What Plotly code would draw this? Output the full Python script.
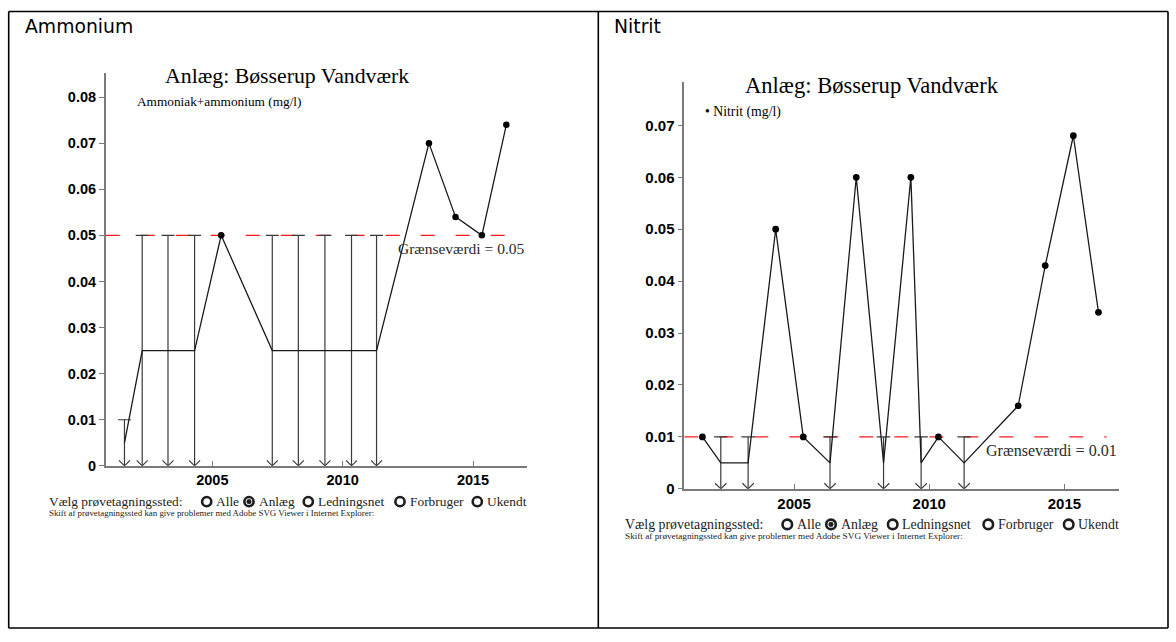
import plotly.graph_objects as go

W, H = 1176, 642

# ---- Ammonium (Ammoniak+ammonium, mg/l) ----
amm_dates = [2001.63, 2002.31, 2003.30, 2004.32, 2005.34, 2007.30, 2008.30,
             2009.32, 2010.34, 2011.30, 2013.31, 2014.33, 2015.34, 2016.28]
amm_values = [0.01, 0.05, 0.05, 0.05, 0.05, 0.05, 0.05,
              0.05, 0.05, 0.05, 0.070, 0.054, 0.050, 0.074]
amm_below = [True, True, True, True, False, True, True,
             True, True, True, False, False, False, False]
amm_limit = 0.05

# ---- Nitrit (mg/l) ----
nit_dates = [2001.61, 2002.29, 2003.30, 2004.32, 2005.34, 2006.33, 2007.30, 2008.31,
             2009.32, 2009.70, 2010.34, 2011.29, 2013.29, 2014.29, 2015.33, 2016.26]
nit_values = [0.01, 0.01, 0.01, 0.05, 0.01, 0.01, 0.06, 0.01,
              0.06, 0.01, 0.01, 0.01, 0.016, 0.043, 0.068, 0.034]
nit_below = [False, True, True, False, False, True, False, True,
             False, True, False, True, False, False, False, False]
nit_limit = 0.01

x_ticks = [2005, 2010, 2015]
plant_title = "Anlæg: Bøsserup Vandværk"
site_prompt = "Vælg prøvetagningssted:"
site_options = ["Alle", "Anlæg", "Ledningsnet", "Forbruger", "Ukendt"]
site_selected = "Anlæg"
site_note = "Skift af prøvetagningssted kan give problemer med Adobe SVG Viewer i Internet Explorer:"

SERIF = "Liberation Serif, Times New Roman, serif"
SANS = "Liberation Sans, Arial, sans-serif"

# Panel geometry (pixels on the page) and scale
panels = [
    dict(header="Ammonium", header_x=23, series="Ammoniak+ammonium (mg/l)", bullet=False,
         dates=amm_dates, values=amm_values, below=amm_below, limit=amm_limit,
         px_x=(105.7, 526.7), px_y=(74.0, 471.7), xrange=(2000.91, 2017.06), yrange=(0, 0.0852),
         dtick_y=0.01, scale=1.0,
         title_xy=(287, 77), legend_xy=(135, 103),
         prompt_xy=(47, 508), note_y=519,
         radio_x=[206.7, 249.0, 308.3, 400.0, 477.3]),
    dict(header="Nitrit", header_x=612, series="Nitrit (mg/l)", bullet=True,
         dates=nit_dates, values=nit_values, below=nit_below, limit=nit_limit,
         px_x=(684.3, 1119.3), px_y=(83.3, 495.0), xrange=(2000.94, 2017.03), yrange=(0, 0.0783),
         dtick_y=0.01, scale=1.036,
         title_xy=(872, 87), legend_xy=(703, 113),
         prompt_xy=(622.7, 531), note_y=542.5,
         radio_x=[787.3, 831.0, 892.7, 988.3, 1068.7]),
]

fig = go.Figure()
annotations = []
shapes = []

# Table frame
frame = dict(type="line", xref="paper", yref="paper", line=dict(color="black", width=1.6))
left, right, mid, top, bottom = 8.7, 1168.0, 598.3, 11.7, 636.0
for (xa, ya, xb, yb) in [(left, top, right, top), (left, bottom, right, bottom),
                         (left, top, left, bottom), (right, top, right, bottom),
                         (mid, top, mid, bottom)]:
    shapes.append(dict(frame, x0=xa / W, x1=xb / W, y0=1 - ya / H, y1=1 - yb / H))

for i, p in enumerate(panels, start=1):
    xa = "x" if i == 1 else f"x{i}"
    ya = "y" if i == 1 else f"y{i}"
    xkey = "xaxis" if i == 1 else f"xaxis{i}"
    ykey = "yaxis" if i == 1 else f"yaxis{i}"
    s = p["scale"]

    # data units per screen pixel
    xpp = (p["xrange"][1] - p["xrange"][0]) / (p["px_x"][1] - p["px_x"][0])
    ypp = (p["yrange"][1] - p["yrange"][0]) / (p["px_y"][1] - p["px_y"][0])

    # below-detection samples are plotted at half the detection limit
    plotted = [v / 2 if b else v for v, b in zip(p["values"], p["below"])]

    # Threshold line
    fig.add_trace(go.Scatter(
        x=[p["xrange"][0], max(p["dates"]) + 0.3], y=[p["limit"], p["limit"]],
        mode="lines", line=dict(color="#ff1a1a", width=1.3, dash="14px,21px"),
        xaxis=xa, yaxis=ya, hoverinfo="skip"))

    # "less than" glyphs: cap at the detection limit, stem and arrow to zero
    gx, gy = [], []
    cap, aw, ah = 6.5 * s * xpp, 5.5 * s * xpp, 5.5 * s * ypp
    for d, v, b in zip(p["dates"], p["values"], p["below"]):
        if not b:
            continue
        gx += [d - cap, d + cap, None, d, d, None, d - aw, d, d + aw, None]
        gy += [v, v, None, v, 0, None, ah, 0, ah, None]
    fig.add_trace(go.Scatter(x=gx, y=gy, mode="lines",
                             line=dict(color="#3a3a3a", width=1.2),
                             xaxis=xa, yaxis=ya, hoverinfo="skip"))

    # Connecting line
    fig.add_trace(go.Scatter(x=p["dates"], y=plotted, mode="lines",
                             line=dict(color="#1a1a1a", width=1.3),
                             xaxis=xa, yaxis=ya))
    # Measured values
    det_x = [d for d, b in zip(p["dates"], p["below"]) if not b]
    det_y = [v for v, b in zip(p["values"], p["below"]) if not b]
    fig.add_trace(go.Scatter(x=det_x, y=det_y, mode="markers",
                             marker=dict(color="black", size=6.5 * s),
                             xaxis=xa, yaxis=ya, cliponaxis=False))

    axis_common = dict(showgrid=False, zeroline=False, showline=True,
                       linecolor="#7a7a7a", linewidth=1.5, tickcolor="#7a7a7a",
                       ticklen=5, tickwidth=1.2,
                       tickfont=dict(family=SANS, size=14.5 * s, color="black", weight="bold"))
    fig.update_layout(**{
        xkey: dict(axis_common, domain=[p["px_x"][0] / W, p["px_x"][1] / W],
                   range=list(p["xrange"]), tickvals=x_ticks, ticks="inside",
                   anchor=ya),
        ykey: dict(axis_common, domain=[1 - p["px_y"][1] / H, 1 - p["px_y"][0] / H],
                   range=list(p["yrange"]), dtick=p["dtick_y"], tick0=0, ticks="outside",
                   tickformat="~g", anchor=xa),
    })

    # Threshold label
    annotations.append(dict(
        x=p["xrange"][1], y=p["limit"], xref=xa, yref=ya, xanchor="right", yanchor="middle",
        yshift=-13 * s, showarrow=False, text=f"Grænseværdi = {p['limit']}",
        font=dict(family=SERIF, size=15.5 * s, color="#2a2a2a")))

    # Cell header
    annotations.append(dict(
        x=p["header_x"] / W, y=1 - 26.5 / H, xref="paper", yref="paper", xanchor="left",
        yanchor="middle", showarrow=False, text=p["header"],
        font=dict(family="DejaVu Sans, Verdana, sans-serif", size=18.8, color="black")))
    # Chart title
    annotations.append(dict(
        x=p["title_xy"][0] / W, y=1 - p["title_xy"][1] / H, xref="paper", yref="paper",
        xanchor="center", yanchor="middle", showarrow=False, text=plant_title,
        font=dict(family=SERIF, size=21.8 * s, color="black")))
    # Series label
    label = ("• " if p["bullet"] else "") + p["series"]
    annotations.append(dict(
        x=p["legend_xy"][0] / W, y=1 - p["legend_xy"][1] / H, xref="paper", yref="paper",
        xanchor="left", yanchor="middle", showarrow=False, text=label,
        font=dict(family=SERIF, size=13.3 * s, color="black")))
    # Sampling site selector
    annotations.append(dict(
        x=p["prompt_xy"][0] / W, y=1 - p["prompt_xy"][1] / H, xref="paper", yref="paper",
        xanchor="left", yanchor="middle", showarrow=False, text=site_prompt,
        font=dict(family=SERIF, size=13.4 * s, color="#222")))
    annotations.append(dict(
        x=p["prompt_xy"][0] / W, y=1 - p["note_y"] / H, xref="paper", yref="paper",
        xanchor="left", yanchor="middle", showarrow=False, text=site_note,
        font=dict(family=SERIF, size=8.9 * s, color="#222")))
    cy = 1 - p["prompt_xy"][1] / H
    r = 4.6 * s
    for opt, cx in zip(site_options, p["radio_x"]):
        shapes.append(dict(type="circle", xref="paper", yref="paper",
                           xsizemode="pixel", ysizemode="pixel",
                           xanchor=cx / W, yanchor=cy, x0=-r, x1=r, y0=-r, y1=r,
                           line=dict(color="#1e1e1e", width=2.6)))
        if opt == site_selected:
            shapes.append(dict(type="circle", xref="paper", yref="paper",
                               xsizemode="pixel", ysizemode="pixel",
                               xanchor=cx / W, yanchor=cy, x0=-2.3, x1=2.3, y0=-2.3, y1=2.3,
                               fillcolor="#1e1e1e", line=dict(color="#1e1e1e", width=0.5)))
        annotations.append(dict(
            x=(cx + 7.5 * s) / W, y=cy, xref="paper", yref="paper", xanchor="left",
            yanchor="middle", showarrow=False, text=opt,
            font=dict(family=SERIF, size=13.4 * s, color="#222")))

fig.update_layout(
    width=W, height=H, margin=dict(l=0, r=0, t=0, b=0),
    paper_bgcolor="white", plot_bgcolor="white", showlegend=False,
    annotations=annotations, shapes=shapes,
)

fig.write_html("out.html")
